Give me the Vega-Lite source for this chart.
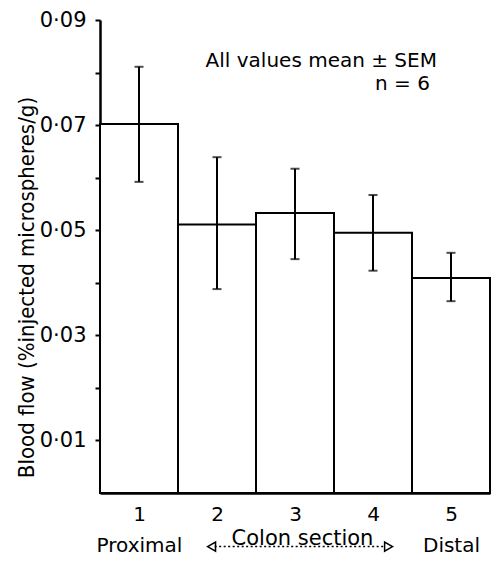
{
  "$schema": "https://vega.github.io/schema/vega-lite/v6.json",
  "width": 390,
  "height": 473,
  "autosize": "none",
  "padding": {"left": 100, "top": 20, "right": 2, "bottom": 69},
  "background": "white",
  "config": {
    "view": {"stroke": null},
    "font": "DejaVu Sans",
    "axis": {"grid": false, "domainColor": "black", "tickColor": "black", "labelColor": "black", "titleColor": "black", "labelFont": "DejaVu Sans", "titleFont": "DejaVu Sans", "titleFontWeight": "normal"}
  },
  "datasets": {
    "bars": [
      {"section": 1, "start": 0.5, "end": 1.5, "mean": 0.0702, "lo": 0.0592, "hi": 0.0811},
      {"section": 2, "start": 1.5, "end": 2.5, "mean": 0.0511, "lo": 0.0388, "hi": 0.0639},
      {"section": 3, "start": 2.5, "end": 3.5, "mean": 0.0533, "lo": 0.0445, "hi": 0.0617},
      {"section": 4, "start": 3.5, "end": 4.5, "mean": 0.0495, "lo": 0.0423, "hi": 0.0567},
      {"section": 5, "start": 4.5, "end": 5.5, "mean": 0.0409, "lo": 0.0365, "hi": 0.0457}
    ],
    "notes": [
      {"text": "All values mean ± SEM", "x": 4.82, "y": 0.0811},
      {"text": "n = 6", "x": 4.73, "y": 0.0767}
    ],
    "arrow": [
      {"from": 1.97, "to": 4.16, "y": -0.0102}
    ],
    "heads": [
      {"x": 1.93, "y": -0.0102, "shape": "triangle-left"},
      {"x": 4.2, "y": -0.0102, "shape": "triangle-right"}
    ]
  },
  "layer": [
    {
      "data": {"name": "bars"},
      "mark": {"type": "bar", "fill": "white", "stroke": "black", "strokeWidth": 2},
      "encoding": {
        "x": {
          "field": "start", "type": "quantitative",
          "scale": {"domain": [0.5, 5.5], "nice": false, "zero": false},
          "axis": {
            "values": [1, 2, 3, 4, 5],
            "ticks": false,
            "domainWidth": 2.5,
            "labelFontSize": 20,
            "labelPadding": 11,
            "labelLineHeight": 31,
            "labelBaseline": "top",
            "labelExpr": "datum.value == 1 ? ['1', 'Proximal'] : datum.value == 5 ? ['5', 'Distal'] : '' + datum.value",
            "title": "Colon section",
            "titleFontSize": 21,
            "titleX": 202,
            "titleY": 51,
            "titleBaseline": "alphabetic",
            "titleAnchor": null
          }
        },
        "x2": {"field": "end"},
        "y": {
          "field": "mean", "type": "quantitative",
          "scale": {"domain": [0, 0.09], "nice": false},
          "axis": {
            "values": [0.01, 0.02, 0.03, 0.04, 0.05, 0.06, 0.07, 0.08, 0.09],
            "tickSize": 5,
            "tickWidth": 2,
            "domainWidth": 2.5,
            "labelFontSize": 21,
            "labelPadding": 9,
            "labelExpr": "round(datum.value*100) % 2 == 1 ? replace(format(datum.value, '.2f'), '.', '·') : ''",
            "title": "Blood flow (%injected microspheres/g)",
            "titleFont": "DejaVu Sans Condensed",
            "titleFontSize": 22,
            "titleAngle": -90,
            "titleX": -67,
            "titleY": 267,
            "titleAlign": "center",
            "titleBaseline": "alphabetic"
          }
        },
        "y2": {"datum": 0}
      }
    },
    {
      "data": {"name": "bars"},
      "mark": {"type": "rule", "stroke": "black", "strokeWidth": 2},
      "encoding": {
        "x": {"field": "section", "type": "quantitative"},
        "y": {"field": "lo", "type": "quantitative"},
        "y2": {"field": "hi"}
      }
    },
    {
      "data": {"name": "bars"},
      "mark": {"type": "tick", "orient": "horizontal", "color": "black", "thickness": 2, "size": 9},
      "encoding": {
        "x": {"field": "section", "type": "quantitative"},
        "y": {"field": "lo", "type": "quantitative"}
      }
    },
    {
      "data": {"name": "bars"},
      "mark": {"type": "tick", "orient": "horizontal", "color": "black", "thickness": 2, "size": 9},
      "encoding": {
        "x": {"field": "section", "type": "quantitative"},
        "y": {"field": "hi", "type": "quantitative"}
      }
    },
    {
      "data": {"name": "notes"},
      "mark": {"type": "text", "align": "right", "baseline": "alphabetic", "fontSize": 20, "color": "black"},
      "encoding": {
        "x": {"field": "x", "type": "quantitative"},
        "y": {"field": "y", "type": "quantitative"},
        "text": {"field": "text"}
      }
    },
    {
      "data": {"name": "arrow"},
      "mark": {"type": "rule", "stroke": "black", "strokeWidth": 1.5, "strokeDash": [2, 2.5], "clip": false},
      "encoding": {
        "x": {"field": "from", "type": "quantitative"},
        "x2": {"field": "to"},
        "y": {"field": "y", "type": "quantitative"}
      }
    },
    {
      "data": {"name": "heads"},
      "mark": {"type": "point", "filled": false, "stroke": "black", "strokeWidth": 1.5, "size": 85, "opacity": 1},
      "encoding": {
        "x": {"field": "x", "type": "quantitative"},
        "y": {"field": "y", "type": "quantitative"},
        "shape": {"field": "shape", "type": "nominal", "scale": null}
      }
    }
  ]
}
